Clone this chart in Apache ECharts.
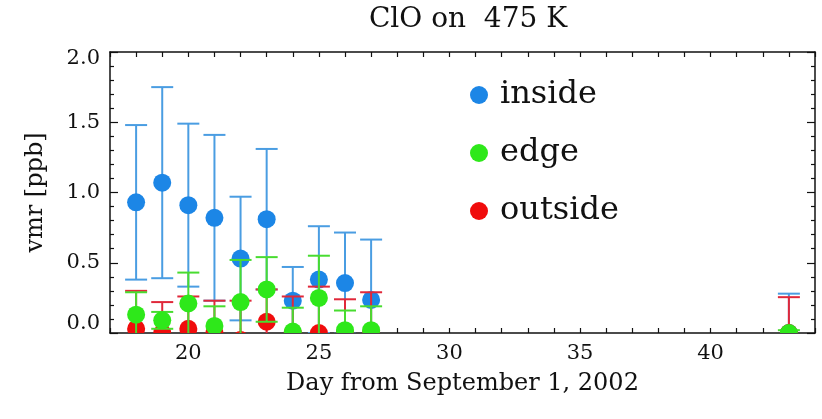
<!DOCTYPE html>
<html>
<head>
<meta charset="utf-8">
<script src="https://cdn.jsdelivr.net/npm/echarts@6/dist/echarts.min.js"></script>
<style>
html,body{margin:0;padding:0;background:#fff;}
#chart{width:822px;height:419px;}
</style>
</head>
<body>
<div id="chart"></div>
<script>
// ---- data ----
const days        = [18, 19, 20, 21, 22, 23, 24, 25, 26, 27, 43];
const insideVals  = [0.93, 1.07, 0.91, 0.82, 0.53, 0.81, 0.23, 0.38, 0.355, 0.235, 0.0];
const insideErrs  = [0.55, 0.68, 0.58, 0.59, 0.44, 0.50, 0.24, 0.38, 0.36, 0.43, 0.28];
const edgeVals    = [0.13, 0.09, 0.21, 0.05, 0.22, 0.31, 0.01, 0.25, 0.02, 0.02, 0.0];
const edgeErrs    = [0.16, 0.06, 0.22, 0.14, 0.30, 0.23, 0.17, 0.30, 0.14, 0.17, 0.02];
const outsideVals = [0.03, 0.0, 0.03, 0.0, -0.05, 0.08, 0.0, 0.0, 0.0, 0.0, 0.0];
const outsideErrs = [0.27, 0.22, 0.23, 0.23, 0.28, 0.23, 0.26, 0.33, 0.24, 0.29, 0.255];
const seriesNames = ['inside', 'edge', 'outside'];
const xTickLabels = [20, 25, 30, 35, 40];
const yTickLabels = [0.0, 0.5, 1.0, 1.5, 2.0];

const FONT = 'DejaVu Serif';
const colors = { inside: '#1c86e6', edge: '#2ee81a', outside: '#f00c0c' };
const barColors = { inside: '#4a9de2', edge: '#48dc30', outside: '#e0283a' };

function rows(vals, errs) {
  return days.map((d, i) => [d, vals[i], errs[i]]);
}

function errSeries(name, vals, errs) {
  const c = barColors[name];
  return {
    type: 'custom',
    name: name + ' err',
    clip: true,
    data: rows(vals, errs),
    encode: { x: 0, y: 1 },
    renderItem: function (params, api) {
      const x = api.value(0), v = api.value(1), e = api.value(2);
      const top = api.coord([x, v + e]);
      const bot = api.coord([x, v - e]);
      const w = 11;
      const st = { stroke: c, lineWidth: 2 };
      return {
        type: 'group',
        children: [
          { type: 'line', shape: { x1: top[0], y1: top[1], x2: bot[0], y2: bot[1] }, style: st },
          { type: 'line', shape: { x1: top[0] - w, y1: top[1], x2: top[0] + w, y2: top[1] }, style: st },
          { type: 'line', shape: { x1: bot[0] - w, y1: bot[1], x2: bot[0] + w, y2: bot[1] }, style: st }
        ]
      };
    },
    z: 2
  };
}

function dotSeries(name, vals) {
  const c = colors[name];
  return {
    type: 'custom',
    name: name,
    clip: true,
    itemStyle: { color: c },
    data: days.map((d, i) => [d, vals[i]]),
    encode: { x: 0, y: 1 },
    renderItem: function (params, api) {
      const p = api.coord([api.value(0), api.value(1)]);
      return { type: 'circle', shape: { cx: p[0], cy: p[1], r: 9 }, style: { fill: c } };
    },
    z: 2
  };
}

const axisLineStyle = { color: '#111', width: 1.5 };

const option = {
  animation: false,
  backgroundColor: '#fff',
  title: {
    text: 'ClO on  475 K',
    left: 463,
    textAlign: 'center',
    top: 1,
    textStyle: { fontFamily: FONT, fontSize: 28, fontWeight: 'normal', color: '#111' }
  },
  legend: {
    data: seriesNames,
    orient: 'vertical',
    left: 465,
    top: 74,
    icon: 'circle',
    itemWidth: 32,
    itemHeight: 18,
    itemGap: 26,
    textStyle: { fontFamily: FONT, fontSize: 32, color: '#111' }
  },
  grid: { left: 110, right: 7, top: 52, bottom: 86 },
  xAxis: [
    {
      type: 'value', position: 'bottom', min: 17, max: 44, interval: 1,
      name: 'Day from September 1, 2002', nameLocation: 'middle', nameGap: 39,
      nameTextStyle: { fontFamily: FONT, fontSize: 24, color: '#111' },
      axisLine: { show: true, onZero: false, lineStyle: axisLineStyle },
      axisTick: { show: true, inside: true, length: 5, lineStyle: { color: '#111', width: 1.2 } },
      axisLabel: { customValues: xTickLabels, margin: 10, fontFamily: FONT, fontSize: 21, color: '#111' },
      splitLine: { show: false }
    },
    {
      type: 'value', position: 'top', min: 17, max: 44, interval: 1,
      axisLine: { show: true, onZero: false, lineStyle: axisLineStyle },
      axisTick: { show: true, inside: true, length: 5, lineStyle: { color: '#111', width: 1.2 } },
      axisLabel: { show: false },
      splitLine: { show: false }
    }
  ],
  yAxis: [
    {
      type: 'value', position: 'left', min: 0, max: 2, interval: 0.5,
      name: 'vmr [ppb]', nameLocation: 'middle', nameGap: 62,
      nameTextStyle: { fontFamily: FONT, fontSize: 24, color: '#111' },
      axisLine: { show: true, onZero: false, lineStyle: axisLineStyle },
      axisTick: { show: true, inside: true, length: 8, lineStyle: { color: '#111', width: 1.2 } },
      minorTick: { show: true, splitNumber: 5, length: 4, lineStyle: { color: '#111', width: 1.2 } },
      axisLabel: {
        margin: 10, fontFamily: FONT, fontSize: 21, color: '#111',
        formatter: function (v) {
          const s = v.toFixed(1);
          if (v === 0) return '{lo|' + s + '}';
          if (v === 2) return '{hi|' + s + '}';
          return s;
        },
        rich: {
          lo: { fontFamily: FONT, fontSize: 21, color: '#111', padding: [0, 0, 18, 0] },
          hi: { fontFamily: FONT, fontSize: 21, color: '#111', padding: [14, 0, 0, 0] }
        }
      },
      splitLine: { show: false }
    },
    {
      type: 'value', position: 'right', min: 0, max: 2, interval: 0.5,
      axisLine: { show: true, onZero: false, lineStyle: axisLineStyle },
      axisTick: { show: true, inside: true, length: 8, lineStyle: { color: '#111', width: 1.2 } },
      minorTick: { show: true, splitNumber: 5, length: 4, lineStyle: { color: '#111', width: 1.2 } },
      axisLabel: { show: false },
      splitLine: { show: false }
    }
  ],
  series: [
    errSeries('inside', insideVals, insideErrs),
    dotSeries('inside', insideVals),
    errSeries('outside', outsideVals, outsideErrs),
    dotSeries('outside', outsideVals),
    errSeries('edge', edgeVals, edgeErrs),
    dotSeries('edge', edgeVals)
  ]
};

const chart = echarts.init(document.getElementById('chart'), null, { renderer: 'canvas' });
chart.setOption(option);
</script>
</body>
</html>
